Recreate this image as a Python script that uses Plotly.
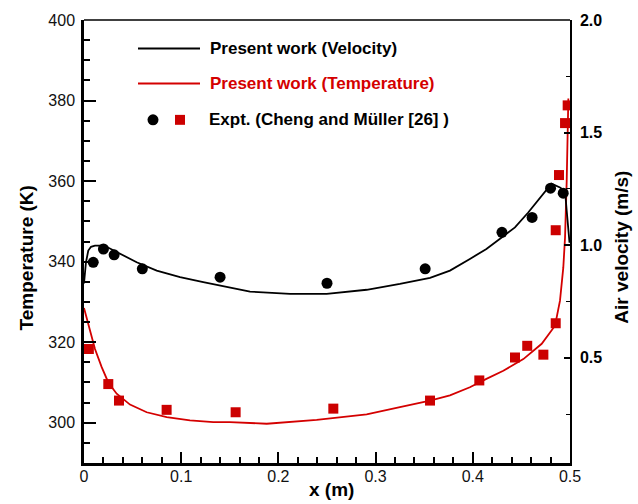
import plotly.graph_objects as go

# ---- computed air velocity along the channel (m/s) ----
x_vel = [0.0, 0.002, 0.0044, 0.0072, 0.0113, 0.0175, 0.0237, 0.037, 0.0542, 0.0748,
         0.0988, 0.1227, 0.150, 0.1708, 0.212, 0.2497, 0.2908, 0.325, 0.356, 0.3765,
         0.397, 0.414, 0.4297, 0.4434, 0.457, 0.4709, 0.481, 0.4897, 0.4949, 0.4966,
         0.4983, 0.4995]
vel = [0.830, 0.923, 0.976, 0.993, 0.998, 0.998, 0.992, 0.961, 0.924, 0.887,
       0.858, 0.836, 0.812, 0.794, 0.784, 0.784, 0.802, 0.828, 0.855, 0.887,
       0.939, 0.983, 1.034, 1.079, 1.145, 1.219, 1.273, 1.256, 1.241, 1.153,
       1.050, 1.011]

# ---- computed air temperature (K) ----
x_temp = [0.0, 0.0062, 0.0113, 0.0182, 0.025, 0.0336, 0.0473, 0.0645, 0.0851, 0.109,
          0.133, 0.150, 0.188, 0.2394, 0.2908, 0.325, 0.356, 0.3765, 0.397, 0.414,
          0.4314, 0.452, 0.4709, 0.4846, 0.4897, 0.4931, 0.4949, 0.4966, 0.4976, 0.4983]
temp = [328.5, 322.8, 318.3, 313.8, 310.0, 307.2, 304.5, 302.6, 301.4, 300.6,
        300.15, 300.15, 299.75, 300.7, 302.1, 303.9, 305.5, 306.8, 308.8, 310.9,
        312.9, 315.8, 319.6, 324.1, 330.3, 338.5, 346.0, 360.0, 373.2, 380.5]

# ---- measurements (Cheng and Müller) ----
x_exp_vel = [0.0095, 0.020, 0.031, 0.060, 0.140, 0.250, 0.351, 0.430, 0.461, 0.480, 0.493]
exp_vel = [0.924, 0.983, 0.957, 0.895, 0.858, 0.831, 0.895, 1.057, 1.123, 1.253, 1.231]

x_exp_temp = [0.005, 0.025, 0.036, 0.085, 0.156, 0.2565, 0.356, 0.4067, 0.4434, 0.456,
              0.4726, 0.4853, 0.4853, 0.4887, 0.4949, 0.4976]
exp_temp = [318.3, 309.6, 305.5, 303.2, 302.6, 303.5, 305.5, 310.5, 316.2, 319.1,
            316.9, 324.7, 347.8, 361.5, 374.4, 378.8]

# ---- axis ticks ----
x_ticks = [0, 0.1, 0.2, 0.3, 0.4, 0.5]
x_tick_text = ["0", "0.1", "0.2", "0.3", "0.4", "0.5"]
t_ticks = [300, 320, 340, 360, 380, 400]
t_tick_text = ["300", "320", "340", "360", "380", "400"]
v_ticks = [0.5, 1.0, 1.5, 2.0]
v_tick_text = ["0.5", "1.0", "1.5", "2.0"]

FONT = "Liberation Sans, Arial, sans-serif"
RED = "#d40000"
BLACK = "#000000"

W, H = 638, 504
ML, MR, MT, MB = 84, 68, 18, 41
PW, PH = W - ML - MR, H - MT - MB


def px(p):
    return (p - ML) / PW


def py(p):
    return (H - MB - p) / PH


fig = go.Figure()

fig.add_trace(go.Scatter(x=x_vel, y=vel, yaxis="y2", mode="lines",
                         line=dict(color=BLACK, width=1.8), showlegend=False))
fig.add_trace(go.Scatter(x=x_temp, y=temp, mode="lines",
                         line=dict(color=RED, width=1.8), showlegend=False))
fig.add_trace(go.Scatter(x=x_exp_temp, y=exp_temp, mode="markers",
                         marker=dict(symbol="square", size=10, color="#cc0000"),
                         showlegend=False))
fig.add_trace(go.Scatter(x=x_exp_vel, y=exp_vel, yaxis="y2", mode="markers",
                         marker=dict(symbol="circle", size=11, color=BLACK),
                         showlegend=False))

shapes = [
    # top frame edge
    dict(type="line", xref="paper", yref="paper", x0=0, x1=1, y0=1, y1=1,
         line=dict(color=BLACK, width=1.5)),
    # legend samples
    dict(type="line", xref="paper", yref="paper", x0=px(138), x1=px(200),
         y0=py(46.7), y1=py(46.7), line=dict(color=BLACK, width=2)),
    dict(type="line", xref="paper", yref="paper", x0=px(138), x1=px(200),
         y0=py(81.7), y1=py(81.7), line=dict(color=RED, width=2)),
    dict(type="circle", xref="paper", yref="paper", x0=px(147.5), x1=px(158.5),
         y0=py(123.8), y1=py(112.8), fillcolor=BLACK, line=dict(width=0)),
    dict(type="rect", xref="paper", yref="paper", x0=px(175), x1=px(185),
         y0=py(123.3), y1=py(113.3), fillcolor="#cc0000", line=dict(width=0)),
]

annotations = [
    dict(text="<b>Present work (Velocity)</b>", x=px(208), y=py(46.7),
         xanchor="left", yanchor="middle", font=dict(size=17, color=BLACK)),
    dict(text="<b>Present work (Temperature)</b>", x=px(208), y=py(81.7),
         xanchor="left", yanchor="middle", font=dict(size=17, color=RED)),
    dict(text="<b>Expt. (Cheng and Müller [26] )</b>", x=px(207), y=py(118.3),
         xanchor="left", yanchor="middle", font=dict(size=17, color=BLACK)),
    dict(text="<b>Temperature (K)</b>", x=px(26), y=py(257.5), textangle=-90,
         xanchor="center", yanchor="middle", font=dict(size=19, color=BLACK)),
    dict(text="<b>Air velocity (m/s)</b>", x=px(621.7), y=py(246), textangle=-90,
         xanchor="center", yanchor="middle", font=dict(size=19, color=BLACK)),
    dict(text="<b>x (m)</b>", x=px(331.5), y=py(490),
         xanchor="center", yanchor="middle", font=dict(size=19, color=BLACK)),
]
for a in annotations:
    a.update(xref="paper", yref="paper", showarrow=False)

fig.update_layout(
    width=W, height=H,
    margin=dict(l=ML, r=MR, t=MT, b=MB, pad=0),
    paper_bgcolor="white", plot_bgcolor="white",
    font=dict(family=FONT, color=BLACK),
    showlegend=False,
    shapes=shapes,
    annotations=annotations,
    xaxis=dict(
        range=[0, 0.5], tickmode="array", tickvals=x_ticks, ticktext=x_tick_text,
        ticks="inside", ticklen=11, tickwidth=2, tickcolor=BLACK,
        minor=dict(ticks="inside", ticklen=6, tickwidth=1.5, tickcolor=BLACK,
                   tickmode="linear", tick0=0, dtick=0.02),
        showline=True, linewidth=2.5, linecolor=BLACK, mirror=False,
        showgrid=False, zeroline=False,
        tickfont=dict(size=16, color="#111111"), ticklabelstandoff=-3,
    ),
    yaxis=dict(
        range=[290, 400], tickmode="array", tickvals=t_ticks, ticktext=t_tick_text,
        ticks="inside", ticklen=12, tickwidth=2, tickcolor=BLACK,
        minor=dict(ticks="inside", ticklen=6.5, tickwidth=1.5, tickcolor=BLACK,
                   tickmode="linear", tick0=290, dtick=5),
        showline=True, linewidth=2.5, linecolor=BLACK, mirror=False,
        showgrid=False, zeroline=False,
        tickfont=dict(size=16, color="#111111"), ticklabelstandoff=3,
    ),
    yaxis2=dict(
        overlaying="y", side="right", anchor="x",
        range=[0.0327, 2.0], tickmode="array", tickvals=v_ticks, ticktext=v_tick_text,
        ticks="inside", ticklen=6, tickwidth=1.5, tickcolor=BLACK,
        minor=dict(ticks="inside", ticklen=4.5, tickwidth=1.2, tickcolor=BLACK,
                   tickmode="linear", tick0=0, dtick=0.25),
        showline=True, linewidth=1.5, linecolor=BLACK,
        showgrid=False, zeroline=False,
        tickfont=dict(size=16, color=BLACK, weight="bold"), ticklabelstandoff=5,
    ),
)

fig.write_html("out.html")
